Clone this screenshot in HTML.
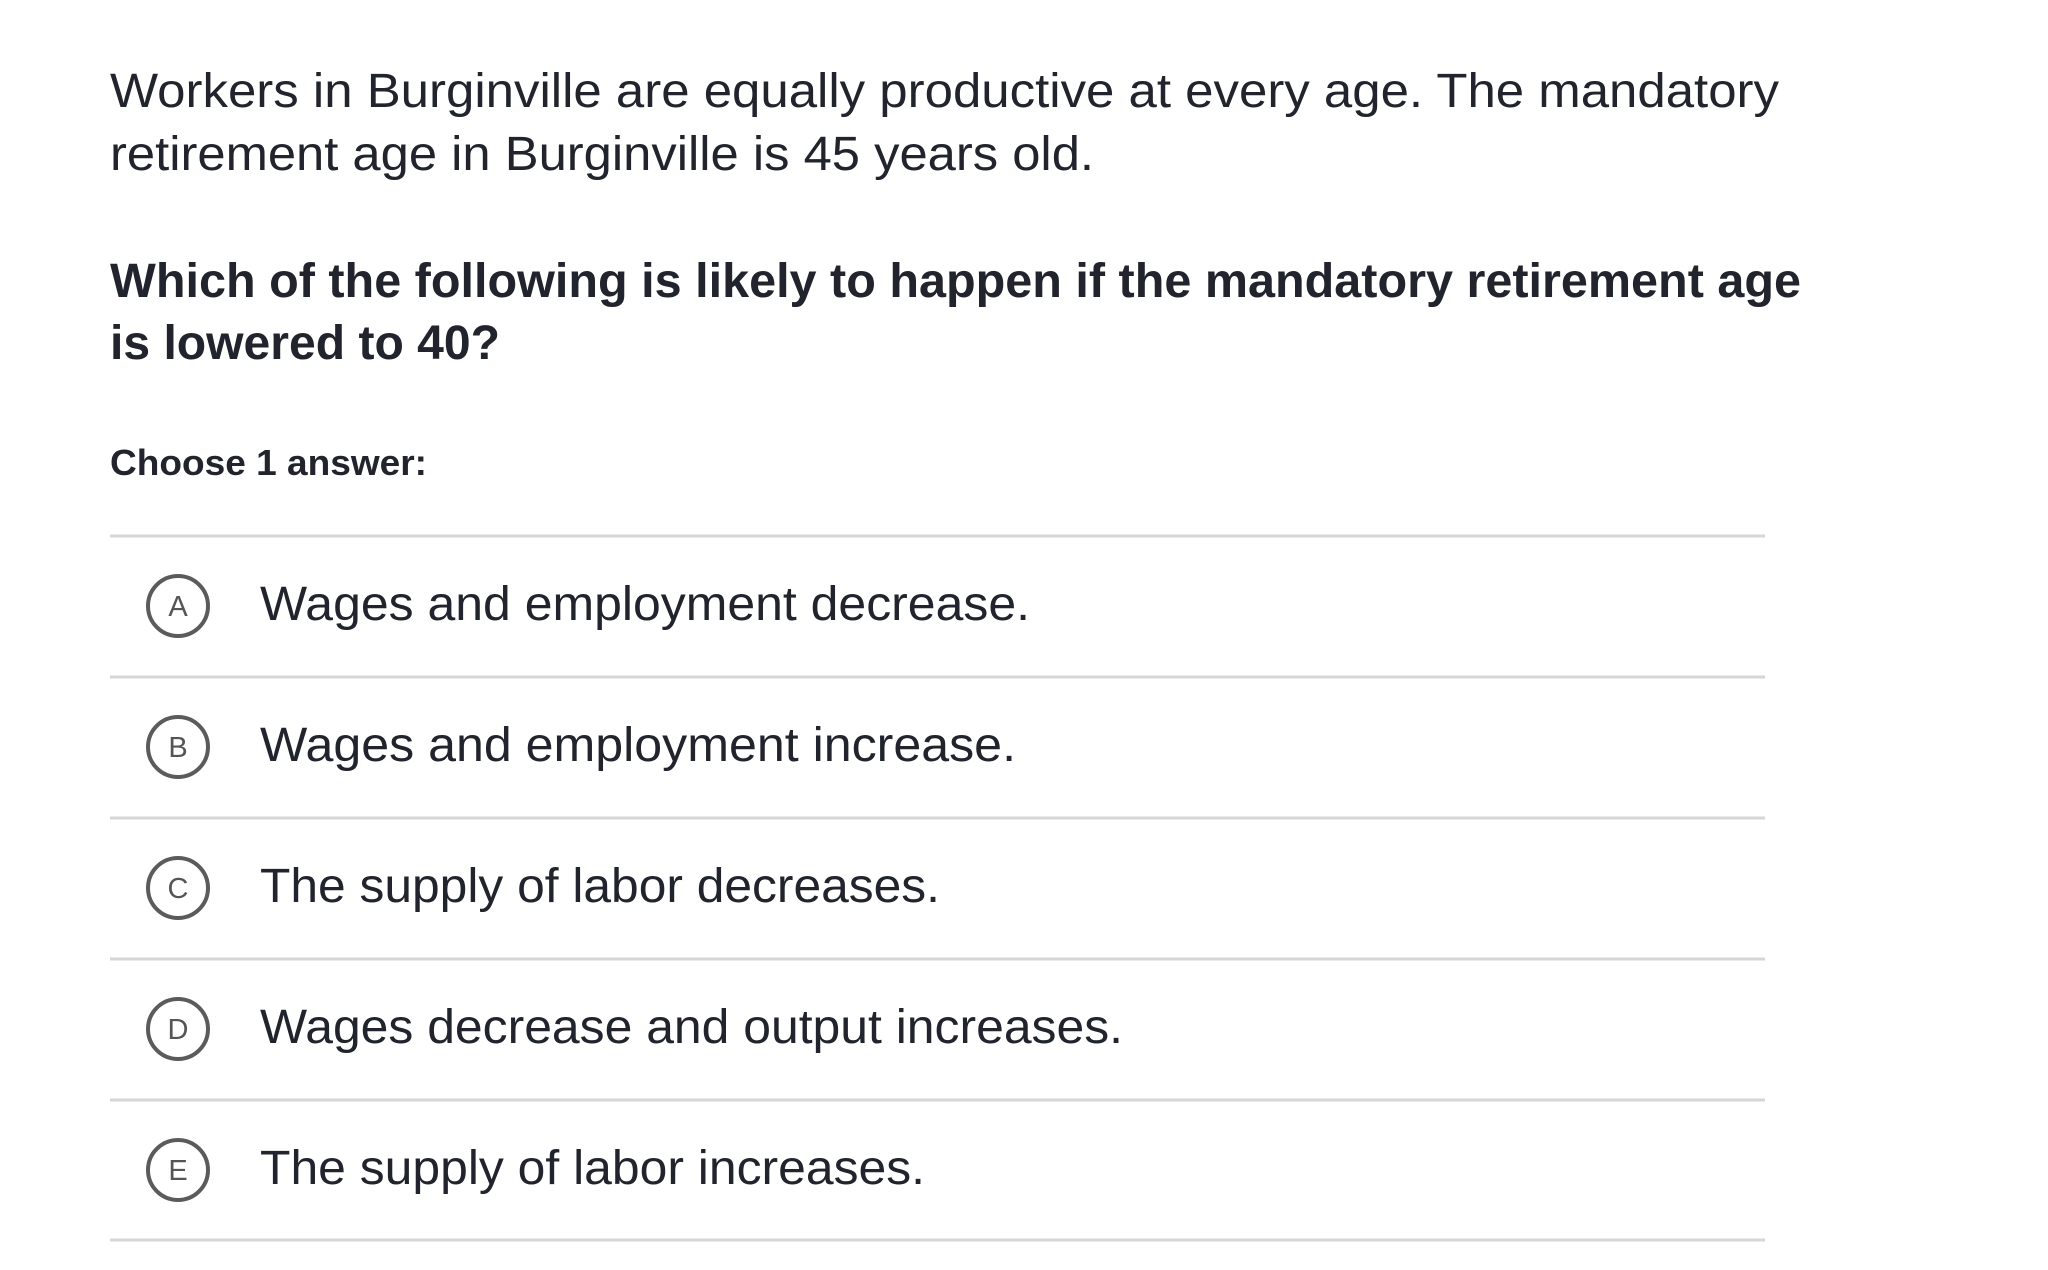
<!DOCTYPE html>
<html><head><meta charset="utf-8"><style>
html,body{margin:0;padding:0;background:#fff;width:2048px;height:1270px;overflow:hidden}
svg{display:block}
text{font-family:"Liberation Sans",sans-serif;fill:#21242c}
</style></head><body>
<svg width="2048" height="1270" viewBox="0 0 2048 1270" xmlns="http://www.w3.org/2000/svg">
<text x="110" y="107" font-size="48" textLength="1669" lengthAdjust="spacingAndGlyphs">Workers in Burginville are equally productive at every age. The mandatory</text>
<text x="110" y="170" font-size="48" textLength="984" lengthAdjust="spacingAndGlyphs">retirement age in Burginville is 45 years old.</text>
<text x="110" y="297" font-size="48" font-weight="bold" textLength="1691" lengthAdjust="spacingAndGlyphs">Which of the following is likely to happen if the mandatory retirement age</text>
<text x="110" y="359" font-size="48" font-weight="bold" textLength="390" lengthAdjust="spacingAndGlyphs">is lowered to 40?</text>
<text x="110" y="475" font-size="36" font-weight="bold" textLength="317" lengthAdjust="spacingAndGlyphs">Choose 1 answer:</text>
<g stroke="#d6d6d6" stroke-width="3">
<line x1="110" y1="536" x2="1765" y2="536"/>
<line x1="110" y1="677" x2="1765" y2="677"/>
<line x1="110" y1="818" x2="1765" y2="818"/>
<line x1="110" y1="959" x2="1765" y2="959"/>
<line x1="110" y1="1100" x2="1765" y2="1100"/>
<line x1="110" y1="1240" x2="1765" y2="1240"/>
</g>
<g fill="none" stroke="#5b5b5b" stroke-width="4">
<circle cx="178" cy="606" r="30"/>
<circle cx="178" cy="747" r="30"/>
<circle cx="178" cy="888" r="30"/>
<circle cx="178" cy="1029" r="30"/>
<circle cx="178" cy="1170" r="30"/>
</g>
<g font-size="29" text-anchor="middle">
<text x="178" y="616" style="fill:#555">A</text>
<text x="178" y="757" style="fill:#555">B</text>
<text x="178" y="898" style="fill:#555">C</text>
<text x="178" y="1039" style="fill:#555">D</text>
<text x="178" y="1180" style="fill:#555">E</text>
</g>
<g font-size="48">
<text x="260" y="620" textLength="770" lengthAdjust="spacingAndGlyphs">Wages and employment decrease.</text>
<text x="260" y="761" textLength="756" lengthAdjust="spacingAndGlyphs">Wages and employment increase.</text>
<text x="260" y="902" textLength="680" lengthAdjust="spacingAndGlyphs">The supply of labor decreases.</text>
<text x="260" y="1043" textLength="863" lengthAdjust="spacingAndGlyphs">Wages decrease and output increases.</text>
<text x="260" y="1184" textLength="665" lengthAdjust="spacingAndGlyphs">The supply of labor increases.</text>
</g>
</svg>
</body></html>
